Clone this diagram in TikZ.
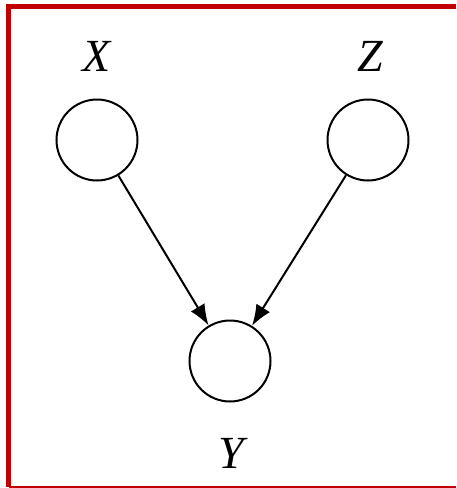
\documentclass[tikz,border=0pt]{standalone}
\usepackage{fontspec}
\setmainfont{Liberation Serif}
\usetikzlibrary{arrows.meta, positioning}
\definecolor{framered}{HTML}{C00000}
\tikzset{
  >={Latex[length=21pt, width=16pt]},
  var/.style={circle, draw=black, line width=2pt, minimum size=81pt, inner sep=0pt},
  lbl/.style={font=\fontsize{46}{54}\selectfont\itshape, inner sep=0pt},
  flow/.style={->, line width=2pt, draw=black},
  rim/.style={draw=framered, line width=5pt},
}

\begin{document}
\begin{tikzpicture}[x=1pt, y=-1pt]
  \useasboundingbox (0,0) rectangle (456,488);
  % frame
  \draw[rim] (456,6.5) -- (8.5,6.5) -- (8.5,487);
  \draw[framered, line width=2pt] (8.5,487) -- (456,487);
  % variables
  \node[var] (x) at (97,140) {};
  \node[var] (z) at (368,140) {};
  \node[var] (y) at (230,361) {};
  \node[lbl] (xl) at (97,56) {X};
  \node[lbl] (zl) at (370,56) {Z};
  \node[lbl] (yl) at (231,453) {Y};
  % edges
  \draw[flow] (x) -- (y);
  \draw[flow] (z) -- (y);
\end{tikzpicture}
\end{document}
